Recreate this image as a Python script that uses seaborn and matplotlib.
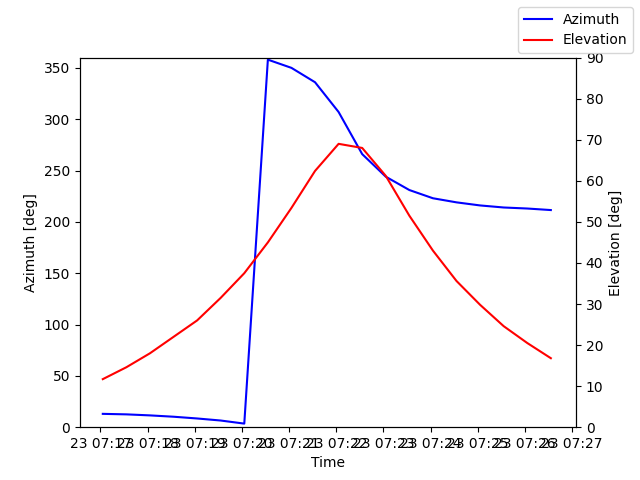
import pandas as pd
import matplotlib
matplotlib.use("Agg")
import matplotlib.pyplot as plt
import seaborn as sns

start = pd.Timestamp("2024-01-23 07:17:03")
times = pd.date_range(start, periods=20, freq="30s")
azimuth = [13, 12.5, 11.5, 10.2, 8.5, 6.5, 3.5, 358, 350, 336, 307, 266, 244, 231, 223, 219, 216, 214, 213, 211.5]
elevation = [11.7, 14.6, 18, 22, 26, 31.5, 37.5, 45, 53.4, 62.4, 69, 68, 61.2, 51.5, 43, 35.6, 29.8, 24.6, 20.5, 16.8]

df = pd.DataFrame({"Time": times, "Azimuth": azimuth, "Elevation": elevation})

fig, ax = plt.subplots(figsize=(6.4, 4.8), dpi=100)
sns.lineplot(data=df, x="Time", y="Azimuth", ax=ax, color="blue", label="Azimuth", legend=False)
ax2 = ax.twinx()
sns.lineplot(data=df, x="Time", y="Elevation", ax=ax2, color="red", label="Elevation", legend=False)
ax.set_ylim(0, 360)
ax2.set_ylim(0, 90)
ax.set_xlim(pd.Timestamp("2024-01-23 07:16:34"), pd.Timestamp("2024-01-23 07:27:05"))
ax.set_ylabel("Azimuth [deg]")
ax2.set_ylabel("Elevation [deg]")
ax.set_xlabel("Time")
fig.legend(loc="upper right")
fig.savefig("out.png")
